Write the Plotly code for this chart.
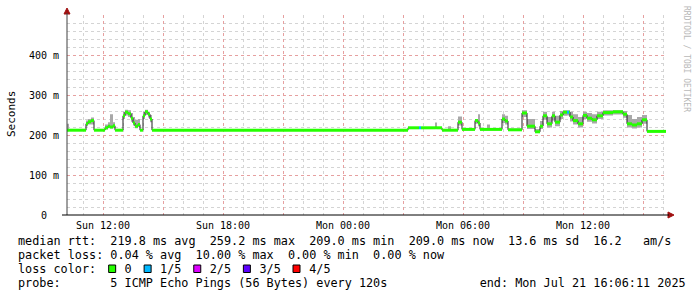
import plotly.graph_objects as go

# ---------------- data ----------------
times = [
    "2025-07-20 10:12", "2025-07-20 10:18", "2025-07-20 11:09", "2025-07-20 11:15",
    "2025-07-20 11:24", "2025-07-20 11:33", "2025-07-20 12:06", "2025-07-20 12:15",
    "2025-07-20 12:21", "2025-07-20 12:30", "2025-07-20 12:36", "2025-07-20 13:00",
    "2025-07-20 13:06", "2025-07-20 13:15", "2025-07-20 13:24", "2025-07-20 13:30",
    "2025-07-20 13:36", "2025-07-20 13:45", "2025-07-20 13:51", "2025-07-20 14:00",
    "2025-07-20 14:06", "2025-07-20 14:15", "2025-07-20 14:21", "2025-07-20 14:27",
    "2025-07-21 03:15", "2025-07-21 03:48", "2025-07-21 03:54", "2025-07-21 04:36",
    "2025-07-21 04:42", "2025-07-21 04:57", "2025-07-21 05:15", "2025-07-21 05:24",
    "2025-07-21 05:45", "2025-07-21 05:57", "2025-07-21 06:36", "2025-07-21 06:45",
    "2025-07-21 06:51", "2025-07-21 07:12", "2025-07-21 07:21", "2025-07-21 07:57",
    "2025-07-21 08:06", "2025-07-21 08:15", "2025-07-21 08:57", "2025-07-21 09:12",
    "2025-07-21 09:36", "2025-07-21 09:51", "2025-07-21 10:00", "2025-07-21 10:12",
    "2025-07-21 10:27", "2025-07-21 10:36", "2025-07-21 10:51", "2025-07-21 11:00",
    "2025-07-21 11:12", "2025-07-21 11:18", "2025-07-21 11:21", "2025-07-21 11:30",
    "2025-07-21 11:45", "2025-07-21 12:00", "2025-07-21 12:12", "2025-07-21 12:27",
    "2025-07-21 12:42", "2025-07-21 13:00", "2025-07-21 13:30", "2025-07-21 14:00",
    "2025-07-21 14:12", "2025-07-21 14:27", "2025-07-21 14:42", "2025-07-21 14:57",
    "2025-07-21 15:12", "2025-07-21 16:09",
]
median_ms = [
    212, 212, 228, 233, 236, 212, 218, 222, 220, 223, 212, 248,
    257, 253, 242, 230, 222, 226, 212, 248, 258, 252, 240, 212,
    218, 218, 218, 218, 218, 212, 212, 212, 232, 214, 236, 230,
    214, 214, 214, 240, 235, 213, 255, 222, 208, 222, 248, 228,
    248, 232, 250, 257, 257, 257, 245, 236, 228, 249, 242, 238,
    248, 256, 258, 252, 228, 225, 228, 238, 209, 209,
]
smoke_lo_ms = [
    210, 211, 222, 226, 226, 211, 214, 217, 216, 217, 211, 240,
    249, 245, 233, 224, 217, 220, 211, 240, 250, 244, 232, 211,
    217, 217, 217, 217, 217, 211, 211, 211, 224, 212, 228, 222,
    212, 212, 212, 230, 226, 211, 245, 215, 206, 215, 238, 219,
    236, 222, 240, 248, 249, 248, 234, 226, 219, 240, 233, 229,
    240, 249, 251, 243, 219, 216, 219, 228, 208, 208,
]
smoke_hi_ms = [
    228, 214, 236, 240, 244, 214, 226, 232, 252, 232, 214, 258,
    263, 262, 255, 245, 238, 240, 215, 258, 263, 258, 250, 214,
    220, 220, 220, 231, 220, 214, 222, 214, 246, 217, 240, 252,
    217, 226, 217, 252, 248, 216, 262, 240, 215, 235, 258, 245,
    258, 248, 260, 262, 262, 262, 258, 252, 245, 258, 255, 252,
    258, 262, 262, 260, 250, 240, 245, 250, 211, 211,
]
loss_pings = [
    0, 0, 0, 0, 0, 0, 0, 0, 0, 0, 0, 0,
    0, 0, 0, 0, 0, 0, 0, 0, 0, 0, 0, 0,
    0, 1, 0, 0, 0, 0, 0, 0, 0, 0, 0, 0,
    0, 0, 0, 0, 0, 0, 0, 0, 0, 0, 0, 0,
    0, 0, 0, 0, 1, 0, 0, 0, 0, 0, 0, 0,
    0, 0, 0, 0, 0, 0, 0, 0, 0, 0,
]
loss_colors = ["#26ff00", "#00b8ff", "#dd00ff", "#5e00ff", "#ff0000"]
loss_labels = ["0", "1/5", "2/5", "3/5", "4/5"]

y_tickvals = [0, 100, 200, 300, 400]
y_ticktext = ["0\u00a0\u00a0", "100\u00a0m", "200\u00a0m", "300\u00a0m", "400\u00a0m"]

x_tickvals = ["2025-07-20 12:00", "2025-07-20 15:00", "2025-07-20 18:00", "2025-07-20 21:00",
              "2025-07-21 00:00", "2025-07-21 03:00", "2025-07-21 06:00", "2025-07-21 09:00",
              "2025-07-21 12:00", "2025-07-21 15:00"]
x_ticktext = ["Sun 12:00", "", "Sun 18:00", "", "Mon 00:00", "", "Mon 06:00", "", "Mon 12:00", ""]

legend_lines = [
    "median rtt:  219.8 ms avg  259.2 ms max  209.0 ms min  209.0 ms now  13.6 ms sd  16.2   am/s",
    "packet loss: 0.04 % avg  10.00 % max  0.00 % min  0.00 % now",
    "loss color:    0    1/5    2/5    3/5    4/5",
    "probe:       5 ICMP Echo Pings (56 Bytes) every 120s             end: Mon Jul 21 16:06:11 2025",
]

MONO = "DejaVu Sans Mono"

fig = go.Figure()

# smoke (spread of the pings)
fig.add_trace(go.Scatter(x=times, y=smoke_lo_ms, mode="lines", line=dict(width=0, shape="hv"),
                         showlegend=False, hoverinfo="skip"))
fig.add_trace(go.Scatter(x=times, y=smoke_hi_ms, mode="lines", line=dict(width=0, shape="hv"),
                         fill="tonexty", fillcolor="#a8a8a8", showlegend=False, hoverinfo="skip"))
# median (dark step line)
fig.add_trace(go.Scatter(x=times, y=median_ms, mode="lines", line=dict(width=1, color="#202020", shape="hv"),
                         showlegend=False, hoverinfo="skip"))
# loss-coloured median segments
for k, col in enumerate(loss_colors):
    xs, ys = [], []
    for i in range(len(times) - 1):
        if loss_pings[i] == k:
            xs += [times[i], times[i + 1], None]
            ys += [median_ms[i], median_ms[i], None]
    if xs:
        fig.add_trace(go.Scatter(x=xs, y=ys, mode="lines", line=dict(width=3, color=col),
                                 showlegend=False, hoverinfo="skip", connectgaps=False))

W, H = 697, 297
L, R, T, B = 67, 30, 15, 82
PW, PH = W - L - R, H - T - B


def px(xp):
    return (xp - L) / PW


def py(yp):
    return (H - B - yp) / PH


annotations = []
line_y = [241, 255, 269, 283]
for txt, yy in zip(legend_lines, line_y):
    annotations.append(dict(text=txt.replace(" ", "\u00a0"), xref="paper", yref="paper",
                            x=px(16), y=py(yy), xanchor="left", yanchor="middle", showarrow=False,
                            font=dict(family=MONO, size=11.8, color="#000000")))
annotations.append(dict(text="Seconds", xref="paper", yref="paper", x=px(11), y=py(114),
                        xanchor="center", yanchor="middle", textangle=-90, showarrow=False,
                        font=dict(family=MONO, size=11, color="#000000")))
annotations.append(dict(text="RRDTOOL / TOBI OETIKER", xref="paper", yref="paper", x=px(686), y=py(59),
                        xanchor="center", yanchor="middle", textangle=90, showarrow=False,
                        font=dict(family=MONO, size=8, color="#b8b8b8")))

shapes = []
# loss colour squares
cw = 7.09
for idx, col in zip([13, 18, 25, 32, 39], loss_colors):
    x0 = 16 + idx * cw + 0.5
    shapes.append(dict(type="rect", xref="paper", yref="paper", x0=px(x0), x1=px(x0 + 7),
                       y0=py(272.5), y1=py(265), fillcolor=col, line=dict(color="#000000", width=1)))
# axis arrows
ar = "#a01010"
shapes.append(dict(type="path", xref="paper", yref="paper", layer="above",
                   path=f"M {px(64)} {py(14)} L {px(70)} {py(14)} L {px(67)} {py(8)} Z",
                   fillcolor=ar, line=dict(color=ar, width=1)))
shapes.append(dict(type="path", xref="paper", yref="paper", layer="above",
                   path=f"M {px(668)} {py(212)} L {px(668)} {py(218)} L {px(674)} {py(215)} Z",
                   fillcolor=ar, line=dict(color=ar, width=1)))
shapes.append(dict(type="line", xref="paper", yref="paper", layer="above",
                   x0=px(67), x1=px(67), y0=py(215), y1=py(13), line=dict(color="#404040", width=1)))
shapes.append(dict(type="line", xref="paper", yref="paper", layer="above",
                   x0=px(62), x1=px(669), y0=py(215), y1=py(215), line=dict(color="#000000", width=1)))

fig.update_layout(
    width=W, height=H, margin=dict(l=L, r=R, t=T, b=B, pad=0),
    paper_bgcolor="#ffffff", plot_bgcolor="#ffffff", showlegend=False,
    annotations=annotations, shapes=shapes,
    xaxis=dict(type="date", range=["2025-07-20 10:12", "2025-07-21 16:12"],
               tickmode="array", tickvals=x_tickvals, ticktext=x_ticktext,
               showgrid=True, gridcolor="#e6a0a0", griddash="dot", gridwidth=1,
               minor=dict(dtick=3600000, tick0="2025-07-20 00:00", showgrid=True,
                          gridcolor="#d4d4d4", griddash="dot", gridwidth=1),
               ticks="", showline=False, zeroline=False,
               tickfont=dict(family=MONO, size=10, color="#000000"),
               ticklabelstandoff=3),
    yaxis=dict(range=[0, 500], tickmode="array", tickvals=y_tickvals, ticktext=y_ticktext,
               showgrid=True, gridcolor="#e6a0a0", griddash="dot", gridwidth=1,
               minor=dict(dtick=20, tick0=0, showgrid=True, gridcolor="#d4d4d4",
                          griddash="dot", gridwidth=1),
               ticks="", showline=False, zeroline=False,
               tickfont=dict(family=MONO, size=10, color="#000000"),
               ticklabelstandoff=7),
)

fig.write_html("out.html")
